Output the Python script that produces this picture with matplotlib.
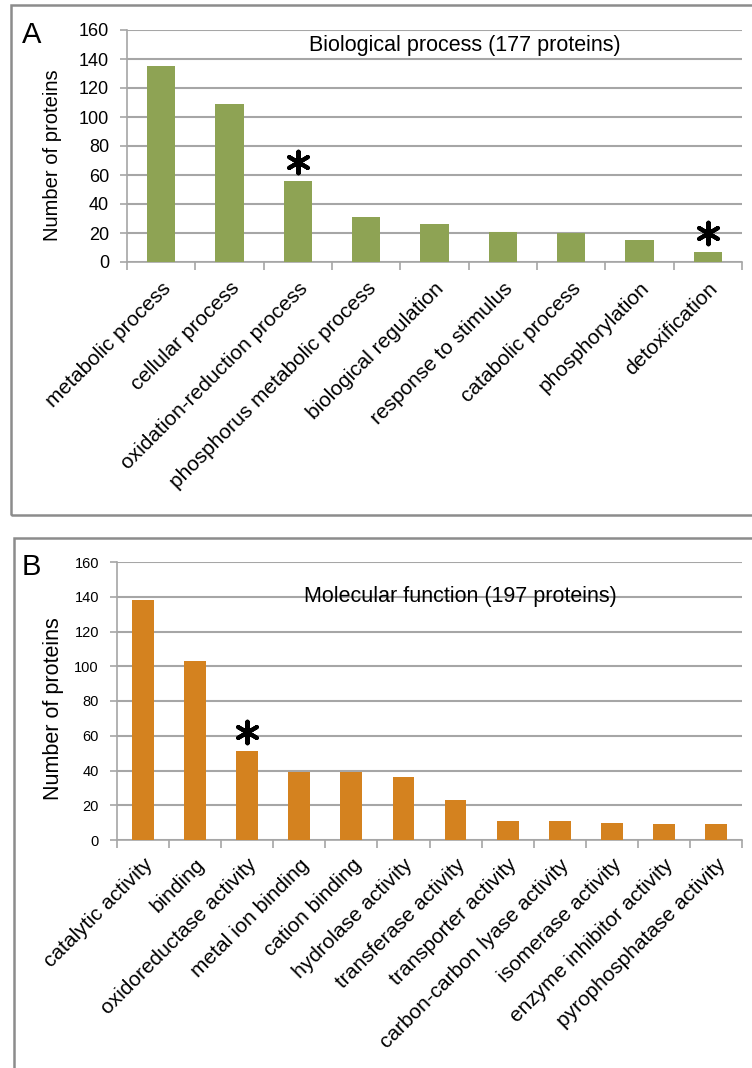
import numpy as np
import matplotlib
matplotlib.use('Agg')
import matplotlib.pyplot as plt
from matplotlib.patches import Rectangle

plt.rcParams['font.family'] = ['Liberation Sans', 'DejaVu Sans']

# 数据：生物过程
bp_labels = ['metabolic process', 'cellular process', 'oxidation-reduction process',
             'phosphorus metabolic process', 'biological regulation', 'response to stimulus',
             'catabolic process', 'phosphorylation', 'detoxification']
bp_values = [135, 109, 56, 31, 26, 21, 20, 15, 7]
bp_star = [2, 8]

# 数据：分子功能
mf_labels = ['catalytic activity', 'binding', 'oxidoreductase activity', 'metal ion binding',
             'cation binding', 'hydrolase activity', 'transferase activity', 'transporter activity',
             'carbon-carbon lyase activity', 'isomerase activity', 'enzyme inhibitor activity',
             'pyrophosphatase activity']
mf_values = [138, 103, 51, 39, 39, 36, 23, 11, 11, 10, 9, 9]
mf_star = [2]

W, H = 752, 1068
fig = plt.figure(figsize=(W / 100, H / 100), dpi=100)

grid_c = '#A6A6A6'


def px(x0, y0, x1, y1):
    # 像素坐标 -> figure坐标
    return [x0 / W, 1 - y1 / H, (x1 - x0) / W, (y1 - y0) / H]


def panel(rect, labels, values, stars, color, title, letter, tick_fs, bar_w, star_off,
          title_y, letter_xy, ylab_xy, ylab_fs, xpad, box):
    ax = fig.add_axes(px(*rect))
    n = len(labels)
    x = np.arange(n)
    ax.bar(x, values, width=bar_w, color=color, zorder=3)
    ax.set_xlim(-0.5, n - 0.5)
    ax.set_ylim(0, 160)
    ax.set_yticks(np.arange(0, 161, 20))
    ax.yaxis.grid(True, color=grid_c, lw=1.5, zorder=0)
    ax.set_axisbelow(True)
    for s in ['top', 'right']:
        ax.spines[s].set_visible(False)
    for s in ['left', 'bottom']:
        ax.spines[s].set_color(grid_c)
        ax.spines[s].set_linewidth(1.2)
    ax.tick_params(axis='y', length=5, width=1.2, color=grid_c, pad=8, labelsize=tick_fs)
    ax.set_xticks(x)
    ax.set_xticklabels(labels, rotation=45, ha='right', va='top', rotation_mode='anchor',
                       fontsize=15)
    ax.set_xticks(np.arange(-0.5, n, 1), minor=True)
    ax.tick_params(axis='x', which='major', length=0, pad=xpad)
    ax.tick_params(axis='x', which='minor', length=6, width=1.2, color=grid_c)
    for i in stars:
        ax.scatter(i, values[i] + star_off, marker=(6, 2, 0), s=240, lw=3, color='black',
                   zorder=4)
    ax.text(0.55, title_y, title, transform=ax.transAxes, ha='center', va='center',
            fontsize=15.5)
    fig.text(letter_xy[0] / W, 1 - letter_xy[1] / H, letter, fontsize=21, ha='left', va='center')
    fig.text(ylab_xy[0] / W, 1 - ylab_xy[1] / H, 'Number of proteins', rotation=90,
             ha='center', va='center', fontsize=ylab_fs)
    fig.add_artist(Rectangle((box[0] / W, 1 - box[3] / H), (box[2] - box[0]) / W,
                             (box[3] - box[1]) / H, transform=fig.transFigure, fill=False,
                             edgecolor='#8C8C8C', lw=1.8))
    return ax


panel((127, 30, 742, 262), bp_labels, bp_values, bp_star, '#8EA354',
      'Biological process (177 proteins)', 'A', 13, 0.41, 13, 0.935, (22, 35), (53, 155),
      14.5, 12, (11, 5, 760, 515))
panel((117, 562, 742, 840), mf_labels, mf_values, mf_star, '#D4821F',
      'Molecular function (197 proteins)', 'B', 10.5, 0.42, 11, 0.875, (22, 567), (54, 709),
      15.5, 11, (14, 538, 760, 1080))

fig.savefig('out.png', dpi=100, facecolor='white')
